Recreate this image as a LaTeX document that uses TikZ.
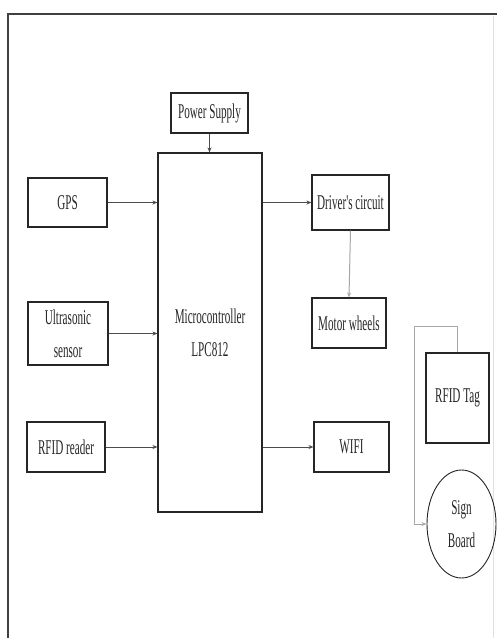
\documentclass[tikz,border=0pt]{standalone}
\usepackage{fontspec}
\newfontfamily\cond[FakeStretch=0.53]{Liberation Serif}
\usetikzlibrary{shapes.geometric,arrows.meta}
\tikzset{
  blk/.style={draw=black!85, line width=1.1pt, rectangle, inner sep=0pt, align=center,
    text=black!85, font={\cond\fontsize{21}{33}\selectfont}},
  conn/.style={draw=black!70, line width=0.8pt, -{Stealth[length=5pt,width=4pt]}},
  gconn/.style={draw=black!35, line width=1pt, -{Stealth[length=5pt,width=4pt]}},
}
\begin{document}
\begin{tikzpicture}[x=1pt,y=-1pt]
\useasboundingbox (0,0) rectangle (497,638);
\fill[white] (0,0) rectangle (497,638);
% frame
\draw[black!75, line width=1.6pt] (8,638) -- (8,14) -- (497,14);
\draw[black!12, line width=0.6pt] (493,16) -- (493,638);
% nodes
\node[blk, minimum width=77pt, minimum height=40pt] (ps) at (209.5,113) {Power Supply};
\node[blk, minimum width=104pt, minimum height=359pt] (mc) at (210,332.5) {Microcontroller\\LPC812};
\node[blk, minimum width=79pt, minimum height=49pt] (gps) at (67.5,202.5) {GPS};
\node[blk, minimum width=80pt, minimum height=63pt] (us) at (68,333.5) {Ultrasonic\\sensor};
\node[blk, minimum width=78pt, minimum height=50pt] (rr) at (66,447) {RFID reader};
\node[blk, minimum width=77pt, minimum height=55pt] (dc) at (350.5,202.5) {Driver's circuit};
\node[blk, minimum width=74pt, minimum height=50pt] (mw) at (349,323) {Motor wheels};
\node[blk, minimum width=75pt, minimum height=50pt] (wifi) at (351.5,447) {WIFI};
\node[blk, minimum width=63pt, minimum height=90pt] (tag) at (457.5,398) {RFID Tag};
\node[blk, ellipse, line width=0.9pt, minimum width=69pt, minimum height=108pt] (sb) at (461.5,524) {Sign\\Board};
\coordinate (bend) at (414,326);
% connectors
\draw[conn] (ps.south) -- (ps.south |- mc.north);
\draw[conn] (gps.east) -- (gps.east -| mc.west);
\draw[conn] (us.east) -- (us.east -| mc.west);
\draw[conn] (rr.east) -- (rr.east -| mc.west);
\draw[conn] (mc.east |- dc.west) -- (dc.west);
\draw[conn] (mc.east |- wifi.west) -- (wifi.west);
\draw[gconn] (dc.south) -- (mw.north);
\draw[gconn] (tag.north) |- (bend) |- (sb.west);
\end{tikzpicture}
\end{document}
